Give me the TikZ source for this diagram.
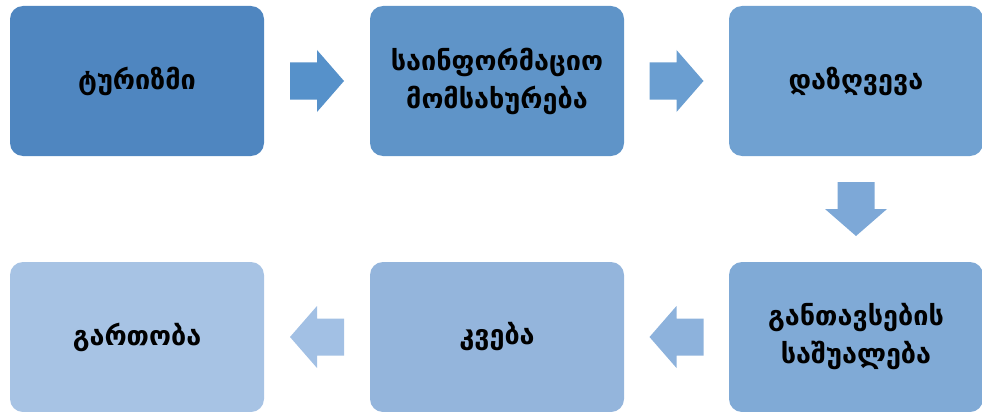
\documentclass[tikz,border=0pt]{standalone}
\usepackage{fontspec}
\newfontfamily\geo{DejaVu Sans}
\usetikzlibrary{calc}
\definecolor{c1}{RGB}{79,134,192}
\definecolor{c2}{RGB}{95,148,200}
\definecolor{c3}{RGB}{112,161,209}
\definecolor{c4}{RGB}{128,170,214}
\definecolor{c5}{RGB}{148,181,220}
\definecolor{c6}{RGB}{167,195,228}
\definecolor{a1}{RGB}{86,145,202}
\definecolor{a2}{RGB}{106,158,209}
\definecolor{a3}{RGB}{125,168,215}
\definecolor{a4}{RGB}{141,178,220}
\definecolor{a5}{RGB}{162,192,228}
\tikzset{
  box/.style={rounded corners=13pt, minimum width=254pt, minimum height=150pt,
    inner sep=0pt, align=center, font=\geo\bfseries\fontsize{27}{38}\selectfont, text=black}
}
\begin{document}
\begin{tikzpicture}[x=1pt,y=-1pt]
\useasboundingbox (0,0) rectangle (982,412);
\node[box, fill=c1] (b1) at (137,81) {ტურიზმი};
\node[box, fill=c2] (b2) at (497,81) {საინფორმაციო\\მომსახურება};
\node[box, fill=c3] (b3) at (856,81) {დაზღვევა};
\node[box, fill=c4] (b4) at (856,337) {განთავსების\\საშუალება};
\node[box, fill=c5] (b5) at (497,337) {კვება};
\node[box, fill=c6] (b6) at (137,337) {გართობა};
\coordinate (m1) at ($(b1.east)!0.5!(b2.west)$);
\coordinate (m2) at ($(b2.east)!0.5!(b3.west)$);
\coordinate (m3) at ($(b3.south)!0.5!(b4.north)$);
\coordinate (m4) at ($(b4.west)!0.5!(b5.east)$);
\coordinate (m5) at ($(b5.west)!0.5!(b6.east)$);
\def\arrowpath{(-27,-18.5) -- (0,-18.5) -- (0,-31) -- (27,0) -- (0,31) -- (0,18.5) -- (-27,18.5) -- cycle}
\fill[a1, shift={(m1)}] \arrowpath;
\fill[a2, shift={(m2)}] \arrowpath;
\fill[a3, shift={(m3)}, rotate=-90] \arrowpath;
\fill[a4, shift={(m4)}, rotate=180] \arrowpath;
\fill[a5, shift={(m5)}, rotate=180] \arrowpath;
\end{tikzpicture}
\end{document}
